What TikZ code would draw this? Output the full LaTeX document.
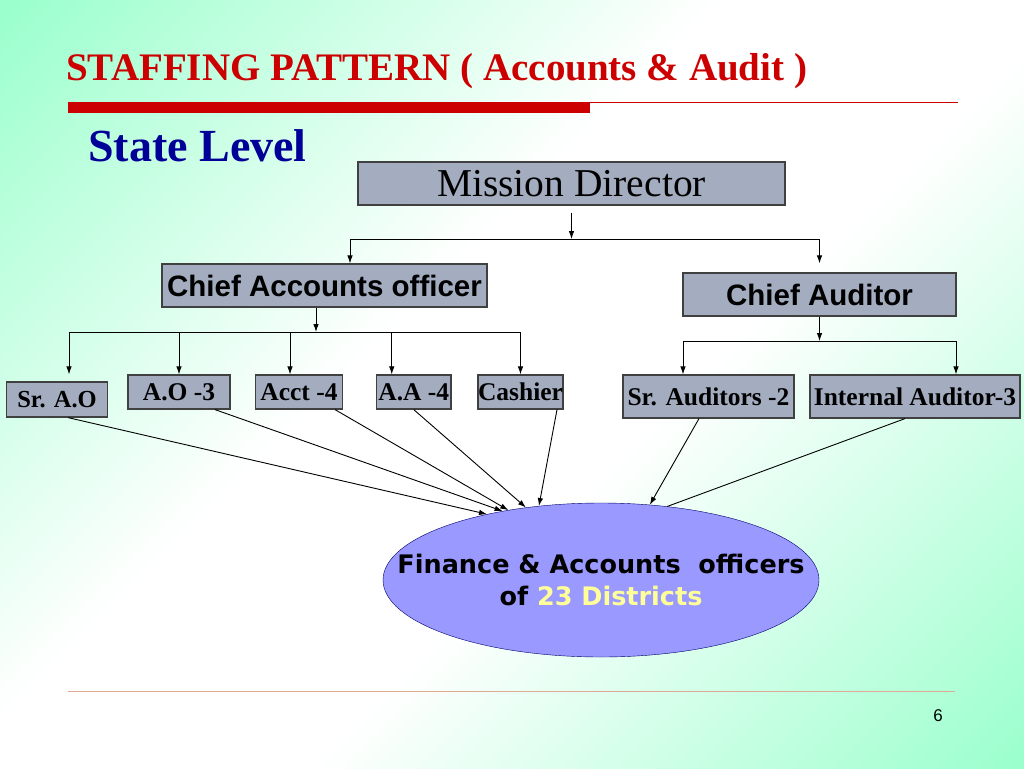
\documentclass[tikz,border=0pt]{standalone}
\usepackage{fontspec}
\usetikzlibrary{shapes.geometric,arrows.meta}
\newfontfamily\tnr{Liberation Serif}
\newfontfamily\arl{Liberation Sans}
\newfontfamily\vrd{DejaVu Sans}
\newcommand{\fsz}[1]{\fontsize{#1}{#1}\selectfont}
\definecolor{bggreen}{RGB}{153,255,204}
\definecolor{slidered}{RGB}{204,0,0}
\definecolor{navy}{RGB}{0,0,153}
\definecolor{boxgray}{RGB}{163,173,191}
\definecolor{oval}{RGB}{153,153,255}
\definecolor{lightyel}{RGB}{255,255,153}
\definecolor{footrule}{RGB}{222,170,150}

\begin{document}
\begin{tikzpicture}[x=1pt,y=-1pt,
  box/.style={draw=black!75,line width=1.2pt,fill=boxgray,inner sep=0pt,minimum height=43pt},
  staff/.style={box,minimum height=34pt,font=\tnr\bfseries\fsz{25.5}},
  conn/.style={-{Latex[length=8pt,width=5.5pt]},line width=0.9pt}]
    \useasboundingbox (0,0) rectangle (1024,768);
    \begin{scope}
    \clip (0,0) rectangle (1024,768);
    \foreach \c in {0,8,...,1792}{
      \pgfmathsetmacro{\p}{min(100,max(0,(abs(\c/1792-0.5)-0.1)*250))}
      \fill[bggreen!\p!white] (\c,0) -- (\c+9,0) -- (\c+9-1792,1792) -- (\c-1792,1792) -- cycle;
    }
    \end{scope}

    \node[anchor=base west,inner sep=0pt,text=slidered,font=\tnr\bfseries\fsz{39}] (title) at (66,81) {STAFFING PATTERN ( Accounts \& Audit )};
    \fill[slidered] (68,102) rectangle (590,113);
    \draw[slidered,line width=1pt] (590,102.5) -- (958,102.5);
    \node[anchor=base west,inner sep=0pt,text=navy,font=\tnr\bfseries\fsz{46}] (level) at (88,161) {State Level};

    \node[box,minimum width=427pt,font=\tnr\fsz{39.5}] (md) at (571.5,183.5) {Mission Director};
    \node[box,minimum width=325pt,font=\arl\bfseries\fsz{29.5}] (cao) at (324.5,285.5) {Chief Accounts officer};
    \node[box,minimum width=273pt,font=\arl\bfseries\fsz{29.5}] (ca) at (819.5,294.5) {Chief Auditor};

    \node[staff,minimum width=101pt,minimum height=35pt,font=\tnr\bfseries\fsz{24.5}] (sao) at (57,399.5) {Sr. A.O};
    \node[staff,minimum width=102pt] (ao) at (179,392) {A.O -3};
    \node[staff,minimum width=87pt] (acct) at (299,392) {Acct -4};
    \node[staff,minimum width=74.5pt] (aa) at (413.75,392) {A.A -4};
    \node[staff,minimum width=85pt] (cash) at (520.5,392) {Cashier};
    \node[staff,minimum width=171pt,minimum height=43pt] (sra) at (708.5,396.5) {Sr. Auditors -2};
    \node[staff,minimum width=210pt,minimum height=43pt] (ia) at (915,396.5) {Internal Auditor-3};

    \node[ellipse,draw=navy!70!black,fill=oval,minimum width=436pt,minimum height=154pt,inner sep=0pt] (fao) at (601,580) {};
    \node[align=center,inner sep=0pt,font=\vrd\bfseries\fontsize{25.5}{32}\selectfont] (faotext) at (fao.center) {Finance \& Accounts\ \ officers\\of \textcolor{lightyel}{23 Districts}};

    \coordinate (mdbus) at (571.5,239);
    \draw[conn] ([yshift=-7pt]md.south) -- (mdbus);
    \draw[conn] (mdbus) -| ([xshift=25.5pt]cao.north);
    \draw[conn] (mdbus) -| ([yshift=9pt]ca.north);

    \coordinate (caobus) at (316,332);
    \draw[conn] ([xshift=-8.5pt]cao.south) -- (caobus);
    \draw[conn] (caobus) -| ([xshift=12pt,yshift=7pt]sao.north);
    \draw[conn] (caobus) -| (ao.north);
    \draw[conn] (caobus) -| ([xshift=-9pt]acct.north);
    \draw[conn] (caobus) -| ([xshift=-22pt]aa.north);
    \draw[conn] (caobus) -| (cash.north);

    \coordinate (cabus) at (819.5,341);
    \draw[conn] (ca.south) -- (cabus);
    \draw[conn] (cabus) -| ([xshift=-25.5pt]sra.north);
    \draw[conn] (cabus) -| ([xshift=41pt]ia.north);

    \draw[conn] ([xshift=11pt]sao.south) -- (fao.150);
    \draw[conn] ([xshift=36pt]ao.south) -- (fao.145);
    \draw[conn] ([xshift=36pt]acct.south) -- (fao.143);
    \draw[conn] (aa.south) -- (fao.136);
    \draw[conn] ([xshift=36.5pt]cash.south) -- (fao.130);
    \draw[conn] ([xshift=-9.5pt]sra.south) -- (fao.57);
    \draw[line width=0.9pt] ([xshift=-10pt]ia.south) -- (fao.48);

    \draw[footrule,line width=0.8pt] (68,691) -- (955,691);
    \node[font=\arl\fsz{17}] (pg) at (938,716) {6};
\end{tikzpicture}
\end{document}
